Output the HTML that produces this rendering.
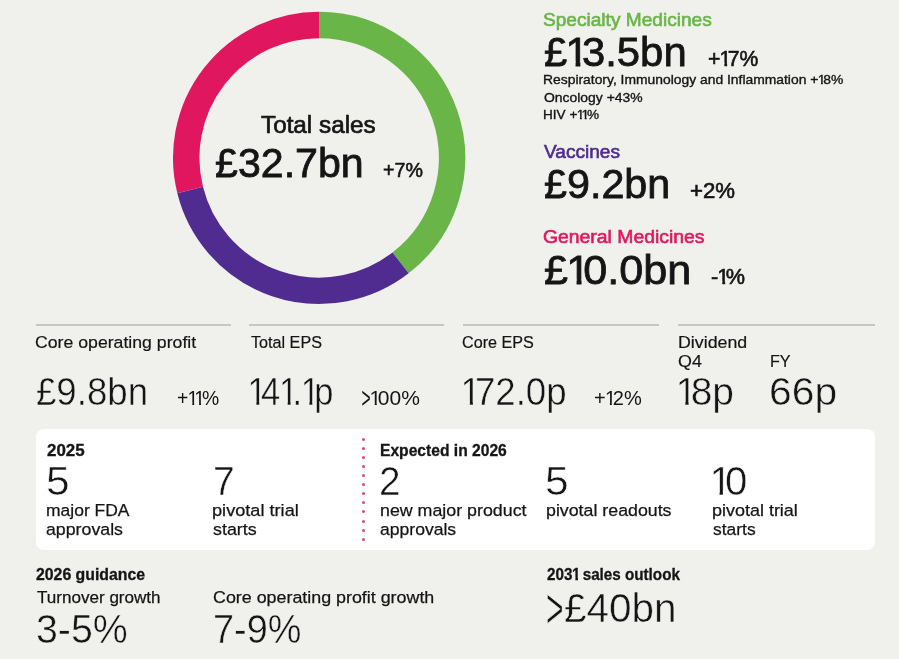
<!DOCTYPE html>
<html lang="en">
<head>
<meta charset="utf-8">
<title>2025 full-year results at a glance</title>
<style>
html,body{margin:0;padding:0}
body{width:899px;height:659px;overflow:hidden;background:#f0f0ed;font-family:"Liberation Sans", Arial, sans-serif;position:relative}
.t{position:absolute;white-space:nowrap;line-height:1;transform-origin:0 0;display:block}
.o{font-weight:inherit;display:inline-block;margin:0 -.165em 0 -.04em}
.ob{font-weight:inherit;display:inline-block;margin:0 -.14em 0 -.02em}
.g{font-weight:inherit;display:inline-block;margin:0 -.07em;transform:scale(.74,1.42);transform-origin:50% 47.5%}
.donut{position:absolute;left:0;top:0}
.rule{position:absolute;top:323.9px;height:2px;background:#c6c6c4}
.box{position:absolute;left:36px;top:428.7px;width:838.7px;height:121.1px;background:#fff;border-radius:8px}
.dot{position:absolute;left:361.9px;width:3px;height:3px;border-radius:50%;background:#e0457b;display:block}
</style>
</head>
<body>
<svg class="donut" width="899" height="320" viewBox="0 0 899 320">
<path d="M319.10 25.00A132.9 132.9 0 0 1 400.56 262.91" fill="none" stroke="#6ab547" stroke-width="26.39999999999999"/>
<path d="M400.56 262.91A132.9 132.9 0 0 1 190.15 190.05" fill="none" stroke="#502c90" stroke-width="26.39999999999999"/>
<path d="M190.15 190.05A132.9 132.9 0 0 1 319.10 25.00" fill="none" stroke="#e0175f" stroke-width="26.39999999999999"/>
</svg>
<div class="rule" style="left:36px;width:194.8px"></div>
<div class="rule" style="left:249px;width:195.0px"></div>
<div class="rule" style="left:462.8px;width:196.7px"></div>
<div class="rule" style="left:677.8px;width:196.9px"></div>
<div class="box"></div>
<i class="dot" style="top:438.10px"></i><i class="dot" style="top:447.15px"></i><i class="dot" style="top:456.19px"></i><i class="dot" style="top:465.24px"></i><i class="dot" style="top:474.28px"></i><i class="dot" style="top:483.33px"></i><i class="dot" style="top:492.37px"></i><i class="dot" style="top:501.42px"></i><i class="dot" style="top:510.46px"></i><i class="dot" style="top:519.50px"></i><i class="dot" style="top:528.55px"></i><i class="dot" style="top:537.60px"></i>
<span class="t" style="left:261.40px;top:113.01px;font-size:24.8px;color:#151515;-webkit-text-stroke:0.7px #151515;transform:scaleX(0.9786)">Total sales</span>
<span class="t" style="left:214.74px;top:141.87px;font-size:41.5px;color:#151515;-webkit-text-stroke:0.8px #151515;transform:scaleX(0.9916)">£32.7bn</span>
<span class="t" style="left:383.23px;top:159.56px;font-size:20.6px;color:#151515;-webkit-text-stroke:0.6px #151515;transform:scaleX(0.9541)">+7%</span>
<span class="t" style="left:543.27px;top:11.39px;font-size:18.8px;color:#6ab547;-webkit-text-stroke:0.6px #6ab547;transform:scaleX(1.0164)">Specialty Medicines</span>
<span class="t" aria-label="£13.5bn" style="left:543.93px;top:30.87px;font-size:41.5px;color:#151515;-webkit-text-stroke:0.8px #151515;transform:scaleX(1.0078)">£<b class="o" style="clip-path:polygon(0 0,17.43px 0,17.43px 30.62px,14.61px 30.62px,14.61px 41.50px,9.92px 41.50px,9.92px 30.62px,0 30.62px)">1</b>3.5bn</span>
<span class="t" aria-label="+17%" style="left:707.56px;top:48.87px;font-size:21.3px;color:#151515;-webkit-text-stroke:0.6px #151515;transform:scaleX(0.9936)">+<b class="o" style="clip-path:polygon(0 0,8.95px 0,8.95px 14.23px,7.64px 14.23px,7.64px 21.30px,4.95px 21.30px,4.95px 14.23px,0 14.23px)">1</b>7%</span>
<span class="t" aria-label="Respiratory, Immunology and Inflammation +18%" style="left:542.95px;top:73.00px;font-size:13px;color:#151515;-webkit-text-stroke:0.35px #151515;transform:scaleX(1.0669)">Respiratory, Immunology and Inflammation +<b class="o" style="clip-path:polygon(0 0,5.46px 0,5.46px 8.85px,4.69px 8.85px,4.69px 13.00px,2.99px 13.00px,2.99px 8.85px,0 8.85px)">1</b>8%</span>
<span class="t" style="left:543.90px;top:91.40px;font-size:13px;color:#151515;-webkit-text-stroke:0.35px #151515;transform:scaleX(1.0707)">Oncology +43%</span>
<span class="t" aria-label="HIV +11%" style="left:542.97px;top:107.60px;font-size:13px;color:#151515;-webkit-text-stroke:0.35px #151515;transform:scaleX(1.0449)">HIV +<b class="o" style="clip-path:polygon(0 0,5.46px 0,5.46px 9.25px,4.69px 9.25px,4.69px 13.00px,2.99px 13.00px,2.99px 9.25px,0 9.25px)">1</b><b class="o" style="clip-path:polygon(0 0,5.46px 0,5.46px 9.25px,4.69px 9.25px,4.69px 13.00px,2.99px 13.00px,2.99px 9.25px,0 9.25px)">1</b>%</span>
<span class="t" style="left:543.99px;top:142.59px;font-size:18.8px;color:#502c90;-webkit-text-stroke:0.6px #502c90;transform:scaleX(1.0161)">Vaccines</span>
<span class="t" style="left:543.94px;top:163.17px;font-size:41.5px;color:#151515;-webkit-text-stroke:0.8px #151515;transform:scaleX(0.9949)">£9.2bn</span>
<span class="t" style="left:690.22px;top:181.27px;font-size:21.3px;color:#151515;-webkit-text-stroke:0.6px #151515;transform:scaleX(1.0414)">+2%</span>
<span class="t" style="left:543.26px;top:227.99px;font-size:18.8px;color:#e0175f;-webkit-text-stroke:0.6px #e0175f;transform:scaleX(1.0310)">General Medicines</span>
<span class="t" aria-label="£10.0bn" style="left:543.91px;top:249.07px;font-size:41.5px;color:#151515;-webkit-text-stroke:0.8px #151515;transform:scaleX(1.0403)">£<b class="o" style="clip-path:polygon(0 0,17.43px 0,17.43px 30.42px,14.61px 30.42px,14.61px 41.50px,9.92px 41.50px,9.92px 30.42px,0 30.42px)">1</b>0.0bn</span>
<span class="t" aria-label="-1%" style="left:710.86px;top:267.17px;font-size:21.3px;color:#151515;-webkit-text-stroke:0.6px #151515;transform:scaleX(1.0163)">-<b class="o" style="clip-path:polygon(0 0,8.95px 0,8.95px 13.93px,7.64px 13.93px,7.64px 21.30px,4.95px 21.30px,4.95px 13.93px,0 13.93px)">1</b>%</span>
<span class="t" style="left:35.23px;top:334.44px;font-size:17.2px;color:#151515;-webkit-text-stroke:0.2px #151515;transform:scaleX(1.0284)">Core operating profit</span>
<span class="t" style="left:35.99px;top:371.86px;font-size:39.5px;color:#151515;-webkit-text-stroke:0.5px #f0f0ed;transform:scaleX(0.9273)">£9.8bn</span>
<span class="t" aria-label="+11%" style="left:176.56px;top:387.95px;font-size:20.5px;color:#151515;transform:scaleX(0.9419)">+<b class="o" style="clip-path:polygon(0 0,8.61px 0,8.61px 14.52px,7.07px 14.52px,7.07px 20.50px,5.05px 20.50px,5.05px 14.52px,0 14.52px)">1</b><b class="o" style="clip-path:polygon(0 0,8.61px 0,8.61px 14.52px,7.07px 14.52px,7.07px 20.50px,5.05px 20.50px,5.05px 14.52px,0 14.52px)">1</b>%</span>
<span class="t" style="left:250.50px;top:334.44px;font-size:17.2px;color:#151515;-webkit-text-stroke:0.2px #151515;transform:scaleX(0.9400)">Total EPS</span>
<span class="t" aria-label="141.1p" style="left:249.14px;top:371.86px;font-size:39.5px;color:#151515;-webkit-text-stroke:0.5px #f0f0ed;transform:scaleX(0.8737)"><b class="o" style="clip-path:polygon(0 0,16.59px 0,16.59px 29.17px,13.28px 29.17px,13.28px 39.50px,10.06px 39.50px,10.06px 29.17px,0 29.17px)">1</b>4<b class="o" style="clip-path:polygon(0 0,16.59px 0,16.59px 29.17px,13.28px 29.17px,13.28px 39.50px,10.06px 39.50px,10.06px 29.17px,0 29.17px)">1</b>.<b class="o" style="clip-path:polygon(0 0,16.59px 0,16.59px 29.17px,13.28px 29.17px,13.28px 39.50px,10.06px 39.50px,10.06px 29.17px,0 29.17px)">1</b>p</span>
<span class="t" aria-label="&gt;100%" style="left:361.28px;top:387.95px;font-size:20.5px;color:#151515;transform:scaleX(1.0250)"><b class="g">&gt;</b><b class="o" style="clip-path:polygon(0 0,8.61px 0,8.61px 14.52px,7.07px 14.52px,7.07px 20.50px,5.05px 20.50px,5.05px 14.52px,0 14.52px)">1</b>00%</span>
<span class="t" style="left:462.10px;top:334.44px;font-size:17.2px;color:#151515;-webkit-text-stroke:0.2px #151515;transform:scaleX(0.9408)">Core EPS</span>
<span class="t" aria-label="172.0p" style="left:462.20px;top:371.86px;font-size:39.5px;color:#151515;-webkit-text-stroke:0.5px #f0f0ed;transform:scaleX(0.9286)"><b class="o" style="clip-path:polygon(0 0,16.59px 0,16.59px 29.17px,13.28px 29.17px,13.28px 39.50px,10.06px 39.50px,10.06px 29.17px,0 29.17px)">1</b>72.0p</span>
<span class="t" aria-label="+12%" style="left:594.02px;top:387.95px;font-size:20.5px;color:#151515;transform:scaleX(0.9766)">+<b class="o" style="clip-path:polygon(0 0,8.61px 0,8.61px 14.52px,7.07px 14.52px,7.07px 20.50px,5.05px 20.50px,5.05px 14.52px,0 14.52px)">1</b>2%</span>
<span class="t" style="left:677.96px;top:334.44px;font-size:17.2px;color:#151515;-webkit-text-stroke:0.2px #151515;transform:scaleX(1.0354)">Dividend</span>
<span class="t" style="left:678.29px;top:354.38px;font-size:16.8px;color:#151515;-webkit-text-stroke:0.2px #151515;transform:scaleX(1.0641)">Q4</span>
<span class="t" style="left:770.04px;top:354.38px;font-size:16.8px;color:#151515;-webkit-text-stroke:0.2px #151515;transform:scaleX(0.9626)">FY</span>
<span class="t" aria-label="18p" style="left:677.14px;top:371.86px;font-size:39.5px;color:#151515;-webkit-text-stroke:0.5px #f0f0ed;transform:scaleX(0.9863)"><b class="o" style="clip-path:polygon(0 0,16.59px 0,16.59px 29.17px,13.28px 29.17px,13.28px 39.50px,10.06px 39.50px,10.06px 29.17px,0 29.17px)">1</b>8p</span>
<span class="t" style="left:768.93px;top:371.86px;font-size:39.5px;color:#151515;-webkit-text-stroke:0.5px #f0f0ed;transform:scaleX(1.0333)">66p</span>
<span class="t" style="left:46.70px;top:443.34px;font-size:15.9px;font-weight:700;color:#151515;-webkit-text-stroke:0.3px #151515;transform:scaleX(1.0657)">2025</span>
<span class="t" style="left:45.95px;top:461.14px;font-size:40px;color:#151515;-webkit-text-stroke:0.5px #ffffff;transform:scaleX(1.0659)">5</span>
<span class="t" style="left:45.67px;top:503.09px;font-size:16.9px;color:#151515;-webkit-text-stroke:0.25px #151515;transform:scaleX(1.0350)">major FDA</span>
<span class="t" style="left:46.09px;top:522.29px;font-size:16.9px;color:#151515;-webkit-text-stroke:0.25px #151515;transform:scaleX(1.0509)">approvals</span>
<span class="t" style="left:212.54px;top:461.14px;font-size:40px;color:#151515;-webkit-text-stroke:0.5px #ffffff;transform:scaleX(0.9775)">7</span>
<span class="t" style="left:212.23px;top:503.09px;font-size:16.9px;color:#151515;-webkit-text-stroke:0.25px #151515;transform:scaleX(1.0746)">pivotal trial</span>
<span class="t" style="left:212.61px;top:522.29px;font-size:16.9px;color:#151515;-webkit-text-stroke:0.25px #151515;transform:scaleX(1.0583)">starts</span>
<span class="t" style="left:379.81px;top:443.34px;font-size:15.9px;font-weight:700;color:#151515;-webkit-text-stroke:0.3px #151515;transform:scaleX(0.9833)">Expected in 2026</span>
<span class="t" style="left:379.37px;top:461.14px;font-size:40px;color:#151515;-webkit-text-stroke:0.5px #ffffff;transform:scaleX(0.9665)">2</span>
<span class="t" style="left:379.65px;top:503.09px;font-size:16.9px;color:#151515;-webkit-text-stroke:0.25px #151515;transform:scaleX(1.0543)">new major product</span>
<span class="t" style="left:380.09px;top:522.29px;font-size:16.9px;color:#151515;-webkit-text-stroke:0.25px #151515;transform:scaleX(1.0398)">approvals</span>
<span class="t" style="left:545.35px;top:461.14px;font-size:40px;color:#151515;-webkit-text-stroke:0.5px #ffffff;transform:scaleX(1.0659)">5</span>
<span class="t" style="left:545.76px;top:503.09px;font-size:16.9px;color:#151515;-webkit-text-stroke:0.25px #151515;transform:scaleX(1.0525)">pivotal readouts</span>
<span class="t" aria-label="10" style="left:710.98px;top:461.14px;font-size:40px;color:#151515;-webkit-text-stroke:0.5px #ffffff;transform:scaleX(1.0040)"><b class="o" style="clip-path:polygon(0 0,16.80px 0,16.80px 29.86px,13.45px 29.86px,13.45px 40.00px,10.19px 40.00px,10.19px 29.86px,0 29.86px)">1</b>0</span>
<span class="t" style="left:712.25px;top:503.09px;font-size:16.9px;color:#151515;-webkit-text-stroke:0.25px #151515;transform:scaleX(1.0632)">pivotal trial</span>
<span class="t" style="left:712.63px;top:522.29px;font-size:16.9px;color:#151515;-webkit-text-stroke:0.25px #151515;transform:scaleX(1.0335)">starts</span>
<span class="t" style="left:36.00px;top:566.71px;font-size:15.7px;font-weight:700;color:#151515;-webkit-text-stroke:0.3px #151515;transform:scaleX(1.0093)">2026 guidance</span>
<span class="t" style="left:36.50px;top:589.04px;font-size:17.2px;color:#151515;-webkit-text-stroke:0.25px #151515;transform:scaleX(0.9927)">Turnover growth</span>
<span class="t" style="left:35.53px;top:608.74px;font-size:40px;color:#151515;-webkit-text-stroke:0.5px #f0f0ed;transform:scaleX(0.9830)">3-5%</span>
<span class="t" style="left:212.54px;top:589.04px;font-size:17.2px;color:#151515;-webkit-text-stroke:0.25px #151515;transform:scaleX(1.0386)">Core operating profit growth</span>
<span class="t" style="left:212.81px;top:608.74px;font-size:40px;color:#151515;-webkit-text-stroke:0.5px #f0f0ed;transform:scaleX(0.9460)">7-9%</span>
<span class="t" aria-label="2031 sales outlook" style="left:546.60px;top:566.71px;font-size:15.7px;font-weight:700;color:#151515;-webkit-text-stroke:0.3px #151515;transform:scaleX(0.9697)">203<b class="ob" style="clip-path:polygon(0 0,6.59px 0,6.59px 10.54px,6.07px 10.54px,6.07px 15.70px,3.41px 15.70px,3.41px 10.54px,0 10.54px)">1</b> sales outlook</span>
<span class="t" style="left:546.48px;top:588.44px;font-size:40px;color:#151515;-webkit-text-stroke:0.5px #f0f0ed;transform:scaleX(1.0122)"><b class="g">&gt;</b>£40bn</span>
</body>
</html>
